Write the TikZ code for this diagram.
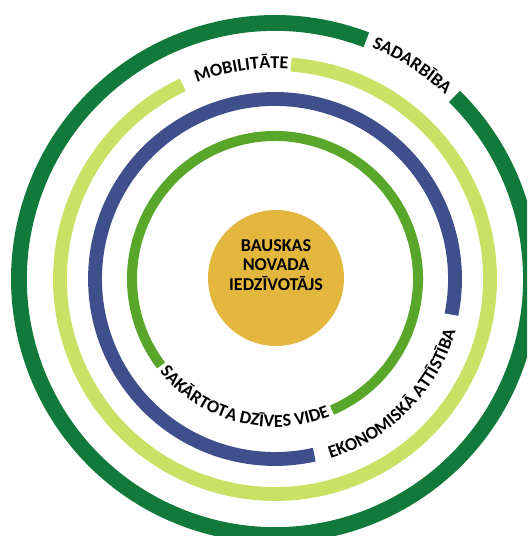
\documentclass[tikz,border=0pt]{standalone}
\usepackage{fontspec}
\setmainfont{Carlito}
\usepackage{tikz}
\usetikzlibrary{decorations.text}
\definecolor{ringdark}{RGB}{17,122,58}
\definecolor{ringlight}{RGB}{201,226,101}
\definecolor{ringblue}{RGB}{62,79,140}
\definecolor{ringgreen}{RGB}{88,166,42}
\definecolor{hubyellow}{RGB}{227,183,62}

\begin{document}
\begin{tikzpicture}[x=0.02cm,y=0.02cm,
  ringtext/.style={decorate, decoration={text along path, text align=center, text={#1}}}]
\useasboundingbox (-275,-257) rectangle (252,279);
\clip (-275,-257) rectangle (252,279);
\coordinate (O) at (0,0);
\node[circle, fill=hubyellow, minimum size=2.72cm, inner sep=0pt] (hub) at (1,1) {};
\node[align=center, font=\bfseries\fontsize{10.3}{11.3}\selectfont] (hubtext) at (1,14) {BAUSKAS\\NOVADA\\IEDZĪVOTĀJS};
\path [draw, line width=9pt, color=ringdark] (O) ++(69.1:256) arc[start angle=69.1, end angle=405.5, radius=256];
\path [draw, line width=7.9pt, color=ringlight] (O) ++(115.4:215) arc[start angle=115.4, end angle=445.7, radius=215];
\path [draw, line width=7.9pt, color=ringblue] (O) ++(-11.4:180) arc[start angle=-11.4, end angle=282.6, radius=180];
\path [draw, line width=5.7pt, color=ringgreen] (O) ++(-66.5:143) arc[start angle=-66.5, end angle=217.2, radius=143];
\begin{scope}[execute at begin scope={\bfseries\fontsize{10.3}{12}\selectfont}]
\path [ringtext={SADARB{\=I}BA}] (O) ++(69.1:251) arc[start angle=69.1, end angle=45.5, radius=251];
\path [ringtext={MOBILIT{\=A}TE}] (O) ++(113.9:211) arc[start angle=113.9, end angle=84.2, radius=211];
\path [ringtext={SAK{\=A}RTOTA DZ{\=I}VES VIDE}] (O) ++(217.2:148) arc[start angle=217.2, end angle=293.5, radius=148];
\path [ringtext={EKONOMISK{\=A} ATT{\=I}ST{\=I}BA}] (O) ++(-77.4:188) arc[start angle=-77.4, end angle=-11.4, radius=188];
\end{scope}
\end{tikzpicture}
\end{document}
